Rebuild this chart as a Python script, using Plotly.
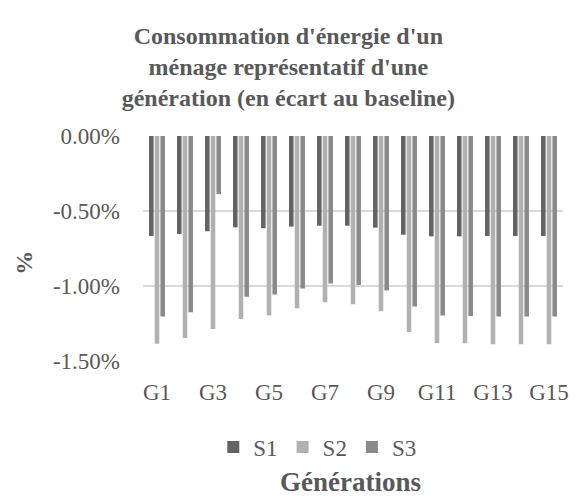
import plotly.graph_objects as go

# Generations G1..G15
generations = [f"G{i}" for i in range(1, 16)]
x_tick_labels = generations[::2]

# Y-axis ticks
y_tick_values = [0.0, -0.5, -1.0, -1.5]
y_tick_labels = ["0.00%", "-0.50%", "-1.00%", "-1.50%"]

# Energy consumption, deviation from baseline (%)
s1 = [-0.667, -0.653, -0.635, -0.609, -0.615, -0.604, -0.598, -0.598,
      -0.611, -0.658, -0.669, -0.669, -0.667, -0.667, -0.667]
s2 = [-1.385, -1.347, -1.287, -1.220, -1.197, -1.148, -1.108, -1.122,
      -1.168, -1.307, -1.380, -1.382, -1.389, -1.389, -1.389]
s3 = [-1.204, -1.175, -0.388, -1.072, -1.057, -1.017, -0.983, -0.994,
      -1.030, -1.137, -1.197, -1.200, -1.204, -1.204, -1.204]

series = [("S1", s1, "#636363"), ("S2", s2, "#b1b1b1"), ("S3", s3, "#8a8a8a")]

FONT = "Liberation Serif"
TXT = "#595959"

fig = go.Figure()
for name, vals, color in series:
    fig.add_trace(go.Bar(
        x=generations, y=vals, name=name,
        marker=dict(color=color, line=dict(width=0)),
    ))

fig.update_layout(
    width=579, height=501,
    margin=dict(l=143, r=10, t=136, b=140),
    paper_bgcolor="white", plot_bgcolor="white",
    barmode="group", bargap=0.39, bargroupgap=0.2,
    font=dict(family=FONT, color=TXT, size=23),
    title=dict(
        text="Consommation d'énergie d'un<br>ménage représentatif d'une<br>génération (en écart au baseline)",
        x=0.498, xanchor="center", y=0.912, yanchor="middle",
        font=dict(family=FONT, size=24, color=TXT, weight="bold"),
    ),
    legend=dict(
        orientation="h", x=0.415, xanchor="center", y=-0.382, yanchor="middle",
        font=dict(family=FONT, size=23, color=TXT),
        itemwidth=30, tracegroupgap=0,
    ),
    showlegend=True,
    annotations=[
        dict(text="%", textangle=-90, xref="paper", yref="paper",
             x=-121 / 426, y=98 / 225, xanchor="center", yanchor="middle",
             showarrow=False, font=dict(family=FONT, size=24, color=TXT, weight="bold")),
        dict(text="Générations", xref="paper", yref="paper",
             x=210 / 426, y=-121 / 225, xanchor="center", yanchor="middle",
             showarrow=False, font=dict(family=FONT, size=27, color=TXT, weight="bold")),
    ],
)

fig.update_yaxes(
    range=[-1.5, 0], tickvals=y_tick_values, ticktext=y_tick_labels,
    showgrid=True, gridcolor="#d9d9d9", gridwidth=2,
    zeroline=False, showline=False, ticks="", ticklabelstandoff=22,
    tickfont=dict(family=FONT, size=23, color=TXT),
)
fig.update_xaxes(
    tickvals=x_tick_labels, ticktext=x_tick_labels,
    showgrid=False, showline=False, ticks="", ticklabelstandoff=15,
    tickfont=dict(family=FONT, size=23, color=TXT),
)

fig.write_html("out.html")
